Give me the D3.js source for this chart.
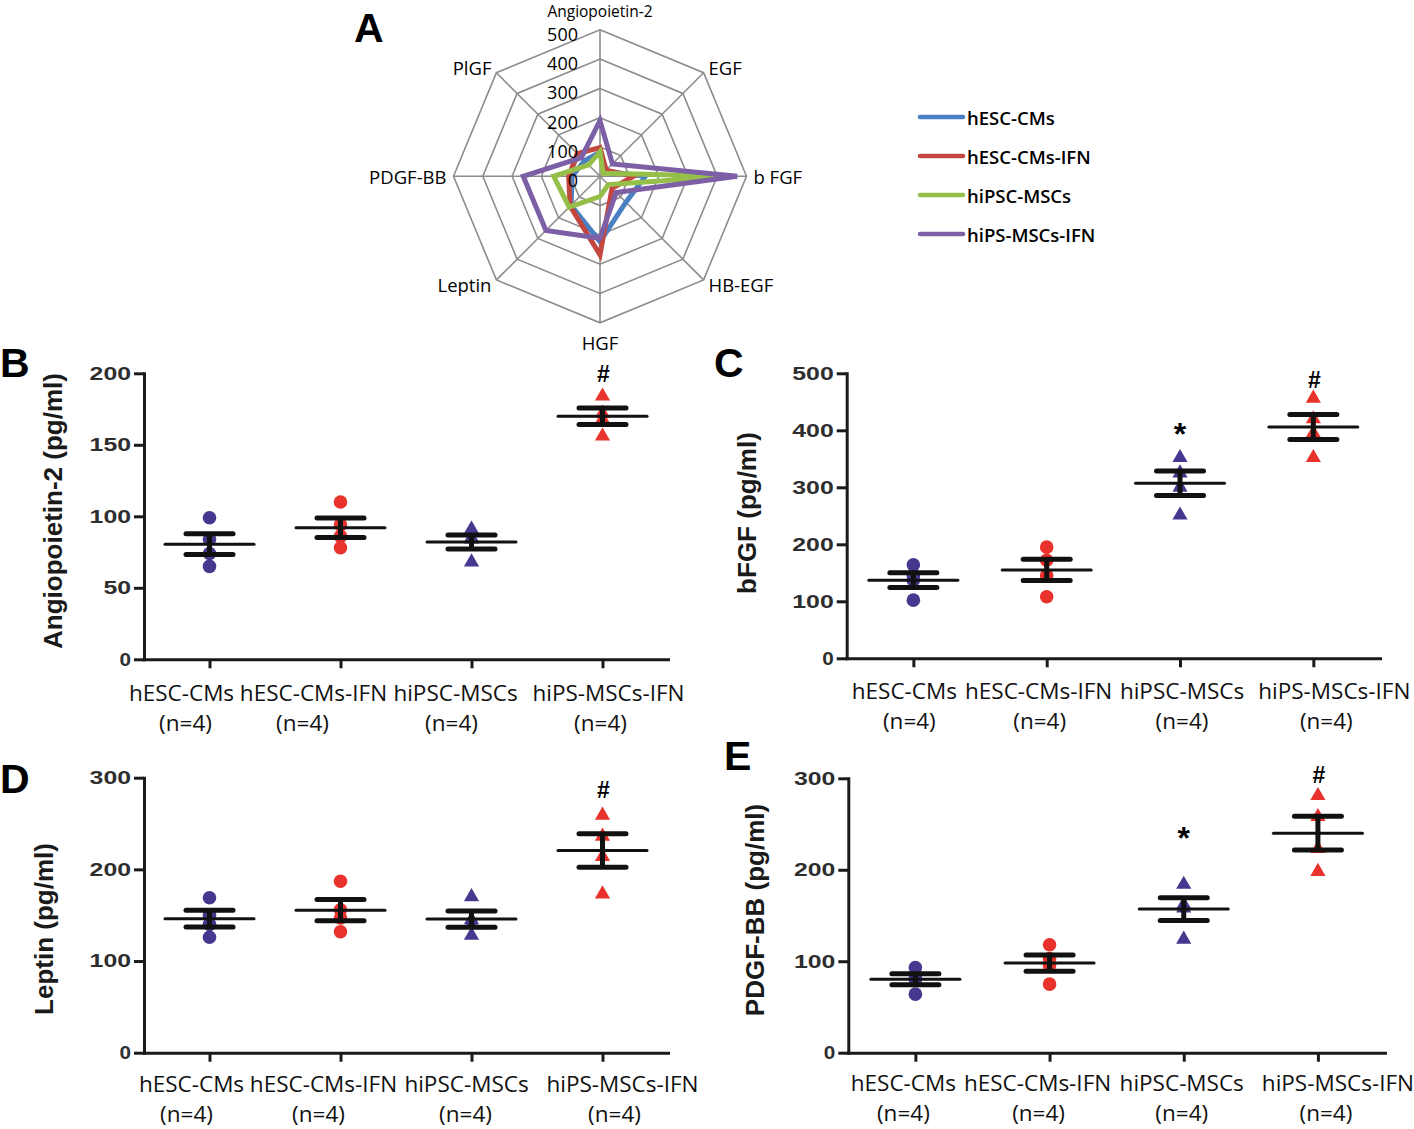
<!DOCTYPE html>
<html>
<head>
<meta charset="utf-8">
<script src="https://cdn.jsdelivr.net/npm/d3@7"></script>
<style>
  html, body { margin: 0; padding: 0; background: #fff; }
  svg { display: block; }
</style>
</head>
<body>
<svg id="chart" width="1414" height="1129"></svg>
<script>
// ---------------- DATA ----------------
const radarAxes = ["Angiopoietin-2", "EGF", "b FGF", "HB-EGF", "HGF", "Leptin", "PDGF-BB", "PlGF"];
const radarSeries = ["hESC-CMs", "hESC-CMs-IFN", "hiPSC-MSCs", "hiPS-MSCs-IFN"];
const radarTicks = [0, 100, 200, 300, 400, 500];
const radarHescCms     = [82, 25, 155, 125, 223, 140, 95, 75];
const radarHescCmsIfn  = [98, 30, 115, 58, 268, 144, 107, 110];
const radarHipscMscs   = [84, 15, 434, 40, 69, 149, 158, 55];
const radarHipsMscsIfn = [190, 60, 468, 78, 211, 261, 262, 90];

const groups = ["hESC-CMs", "hESC-CMs-IFN", "hiPSC-MSCs", "hiPS-MSCs-IFN"];
const groupN = ["(n=4)", "(n=4)", "(n=4)", "(n=4)"];

const ang2Ticks = [0, 50, 100, 150, 200];
const ang2Values = [[99, 84, 74, 65], [110, 94, 86, 78], [91, 85, 84, 68], [184, 172, 168, 156]];
const bfgfTicks = [0, 100, 200, 300, 400, 500];
const bfgfValues = [[164, 145, 137, 102], [195, 172, 145, 108], [352, 325, 300, 251], [456, 420, 395, 352]];
const leptinTicks = [0, 100, 200, 300];
const leptinValues = [[169, 150, 140, 126], [187, 156, 147, 132], [170, 145, 140, 128], [259, 236, 214, 173]];
const pdgfTicks = [0, 100, 200, 300];
const pdgfValues = [[93, 84, 80, 64], [118, 103, 96, 75], [184, 162, 158, 124], [281, 258, 223, 198]];

// significance marks: group index, symbol, value level
const ang2Marks = [{g: 3, s: "#", v: 194}];
const bfgfMarks = [{g: 2, s: "*", v: 379}, {g: 3, s: "#", v: 474}];
const leptinMarks = [{g: 3, s: "#", v: 278}];
const pdgfMarks = [{g: 2, s: "*", v: 226}, {g: 3, s: "#", v: 295}];

// ---------------- STYLE ----------------
const radarColors = ["#4a7fc2", "#c4473f", "#96bf4a", "#7d5fa6"];
const markerColors = ["#45388f", "#e8322b", "#45388f", "#e8322b"];
const markerShapes = ["circle", "circle", "triangle", "triangle"];
const sansText = "'Open Sans', 'Noto Sans', sans-serif";
const arialText = "'Liberation Sans', Arial, sans-serif";

const svg = d3.select("#chart");

// ---------------- RADAR (A) ----------------
(function drawRadar() {
  const cx = 600, cy = 176.3;
  const r = d3.scaleLinear().domain([0, 500]).range([0, 146.5]);
  const angle = i => i * 2 * Math.PI / radarAxes.length;
  const g = svg.append("g").attr("transform", `translate(${cx},${cy})`);

  const ringLine = d3.lineRadial().angle((d, i) => angle(i)).radius(d => r(d)).curve(d3.curveLinearClosed);

  radarTicks.filter(t => t > 0).forEach(t => {
    g.append("path").attr("d", ringLine(radarAxes.map(() => t)))
      .attr("fill", "none").attr("stroke", "#8c8c8c").attr("stroke-width", 1.6);
  });
  radarAxes.forEach((a, i) => {
    const an = angle(i);
    g.append("line").attr("x1", 0).attr("y1", 0)
      .attr("x2", Math.sin(an) * r(500)).attr("y2", -Math.cos(an) * r(500))
      .attr("stroke", "#8c8c8c").attr("stroke-width", 1.6);
  });

  const series = [radarHescCms, radarHescCmsIfn, radarHipscMscs, radarHipsMscsIfn];
  series.forEach((s, k) => {
    g.append("path").attr("d", ringLine(s))
      .attr("fill", "none").attr("stroke", radarColors[k]).attr("stroke-width", 5)
      .attr("stroke-linejoin", "miter");
  });

  // tick labels
  radarTicks.forEach(t => {
    g.append("text").attr("x", -22).attr("y", -r(t) + 4)
      .attr("text-anchor", "end").attr("dominant-baseline", "central")
      .attr("font-family", sansText).attr("font-size", 18).attr("fill", "#000").text(t);
  });

  // axis labels
  radarAxes.forEach((a, i) => {
    const an = angle(i);
    const s = Math.sin(an), c = Math.cos(an);
    const vertical = Math.abs(s) < 0.1;
    const R = r(500) + (vertical ? 20 : 7);
    const top = vertical && c > 0;
    g.append("text")
      .attr("x", s * R).attr("y", top ? -R + 1.2 : -c * R)
      .attr("text-anchor", vertical ? "middle" : (s > 0 ? "start" : "end"))
      .attr("dominant-baseline", "central")
      .attr("font-family", sansText).attr("font-size", top ? 15.5 : 18.5).attr("fill", "#000").text(a);
  });

  // legend
  const lg = svg.append("g").attr("transform", "translate(920,117)");
  radarSeries.forEach((s, k) => {
    const row = lg.append("g").attr("transform", `translate(0,${k * 39})`);
    row.append("line").attr("x1", 0).attr("x2", 43).attr("y1", 0).attr("y2", 0)
      .attr("stroke", radarColors[k]).attr("stroke-width", 4.5).attr("stroke-linecap", "round");
    row.append("text").attr("x", 47).attr("y", 0).attr("dominant-baseline", "central")
      .attr("font-family", sansText).attr("font-weight", 600).attr("font-size", 18.5)
      .attr("fill", "#000").text(s);
  });

  svg.append("text").attr("x", 354).attr("y", 42)
    .attr("font-family", arialText).attr("font-weight", 700).attr("font-size", 41).text("A");
})();

// ---------------- DOT PLOTS (B-E) ----------------
const panels = [
  {letter: "B", lx: 0, ly: 377, values: ang2Values, ticks: ang2Ticks, max: 200, marks: ang2Marks,
   x0: 144, x1: 668, yb: 659.3, yt: 373.3, ylabel: "Angiopoietin-2 (pg/ml)", ylx: 53, yly: 511,
   l1y: 701, l2y: 731, off1: [-28, -27, -16, 6], off2: [-24, -38, -20, -2]},
  {letter: "C", lx: 714, ly: 377, values: bfgfValues, ticks: bfgfTicks, max: 500, marks: bfgfMarks,
   x0: 846.7, x1: 1380, yb: 658.3, yt: 373.3, ylabel: "bFGF (pg/ml)", ylx: 747, yly: 513,
   l1y: 699, l2y: 729, off1: [-9, -8, 2, 21], off2: [-4, -7, 2, 13]},
  {letter: "D", lx: 0, ly: 793, values: leptinValues, ticks: leptinTicks, max: 300, marks: leptinMarks,
   x0: 144, x1: 668, yb: 1052.7, yt: 777.7, ylabel: "Leptin (pg/ml)", ylx: 44, yly: 929,
   l1y: 1092, l2y: 1122, off1: [-18, -17, -5, 20], off2: [-23, -22, -6, 12]},
  {letter: "E", lx: 724, ly: 770, values: pdgfValues, ticks: pdgfTicks, max: 300, marks: pdgfMarks,
   x0: 848.3, x1: 1385, yb: 1052.7, yt: 778.3, ylabel: "PDGF-BB (pg/ml)", ylx: 755, yly: 910,
   l1y: 1091, l2y: 1121, off1: [-12, -12, -2, 20], off2: [-12, -11, -2, 8]}
];

panels.forEach(p => {
  const g = svg.append("g");
  const x = d3.scalePoint().domain(groups).range([p.x0, p.x1]).padding(0.5);
  const y = d3.scaleLinear().domain([0, p.max]).range([p.yb, p.yt]);

  // y axis
  const ya = g.append("g").attr("transform", `translate(${p.x0},0)`)
    .call(d3.axisLeft(y).tickValues(p.ticks).tickSize(10).tickSizeOuter(0).tickPadding(3));
  ya.select(".domain").attr("stroke", "#1a1a1a").attr("stroke-width", 3).attr("stroke-linecap", "square");
  ya.selectAll(".tick line").attr("stroke", "#1a1a1a").attr("stroke-width", 3);
  ya.selectAll(".tick text")
    .attr("font-family", arialText).attr("font-weight", 700).attr("font-size", 18.5)
    .attr("fill", "#2e2e2e")
    .attr("textLength", d => String(d).length === 1 ? 11.5 : String(d).length * 13.8)
    .attr("lengthAdjust", "spacingAndGlyphs");

  // x axis
  const xa = g.append("g").attr("transform", `translate(0,${p.yb})`)
    .call(d3.axisBottom(x).tickSize(9).tickSizeOuter(0).tickFormat(""));
  xa.select(".domain").attr("stroke", "#1a1a1a").attr("stroke-width", 3).attr("stroke-linecap", "square");
  xa.selectAll(".tick line").attr("stroke", "#1a1a1a").attr("stroke-width", 3);

  // x labels
  groups.forEach((grp, i) => {
    g.append("text").attr("x", x(grp) + p.off1[i]).attr("y", p.l1y)
      .attr("text-anchor", "middle").attr("font-family", sansText).attr("font-size", 22.5)
      .attr("fill", "#111").text(grp);
    g.append("text").attr("x", x(grp) + p.off2[i]).attr("y", p.l2y)
      .attr("text-anchor", "middle").attr("font-family", sansText).attr("font-size", 22.5)
      .attr("fill", "#111").text(groupN[i]);
  });

  // y label
  g.append("text").attr("transform", `translate(${p.ylx},${p.yly}) rotate(-90)`)
    .attr("text-anchor", "middle").attr("dominant-baseline", "central")
    .attr("font-family", arialText).attr("font-weight", 700).attr("font-size", 26)
    .attr("fill", "#1a1a1a").text(p.ylabel);

  // panel letter
  svg.append("text").attr("x", p.lx).attr("y", p.ly)
    .attr("font-family", arialText).attr("font-weight", 700).attr("font-size", 41).text(p.letter);

  // points
  const tri = d3.symbol().type(d3.symbolTriangle).size(100);
  p.values.forEach((vals, i) => {
    const cxp = x(groups[i]);
    vals.forEach(v => {
      if (markerShapes[i] === "circle") {
        g.append("circle").attr("cx", cxp).attr("cy", y(v)).attr("r", 6.8).attr("fill", markerColors[i]);
      } else {
        g.append("path").attr("d", tri).attr("transform", `translate(${cxp},${y(v)})`).attr("fill", markerColors[i]);
      }
    });
  });

  // mean +/- SEM
  p.values.forEach((vals, i) => {
    const cxp = x(groups[i]);
    const m = d3.mean(vals);
    const sem = d3.deviation(vals) / Math.sqrt(vals.length);
    g.append("line").attr("x1", cxp - 44.5).attr("x2", cxp + 44.5).attr("y1", y(m)).attr("y2", y(m))
      .attr("stroke", "#111").attr("stroke-width", 3).attr("stroke-linecap", "round");
    [m - sem, m + sem].forEach(v => {
      g.append("line").attr("x1", cxp - 23.5).attr("x2", cxp + 23.5).attr("y1", y(v)).attr("y2", y(v))
        .attr("stroke", "#111").attr("stroke-width", 5).attr("stroke-linecap", "round");
    });
    g.append("line").attr("x1", cxp).attr("x2", cxp).attr("y1", y(m - sem)).attr("y2", y(m + sem))
      .attr("stroke", "#111").attr("stroke-width", 5);
  });

  // significance marks
  p.marks.forEach(mk => {
    g.append("text").attr("x", x(groups[mk.g]) + (mk.s === "#" ? 1 : 0)).attr("y", y(mk.v) + (mk.s === "*" ? 3 : 0))
      .attr("text-anchor", "middle").attr("font-family", arialText).attr("font-weight", 700)
      .attr("font-size", mk.s === "#" ? 23 : 32).attr("fill", "#000").text(mk.s);
  });
});
</script>
</body>
</html>
